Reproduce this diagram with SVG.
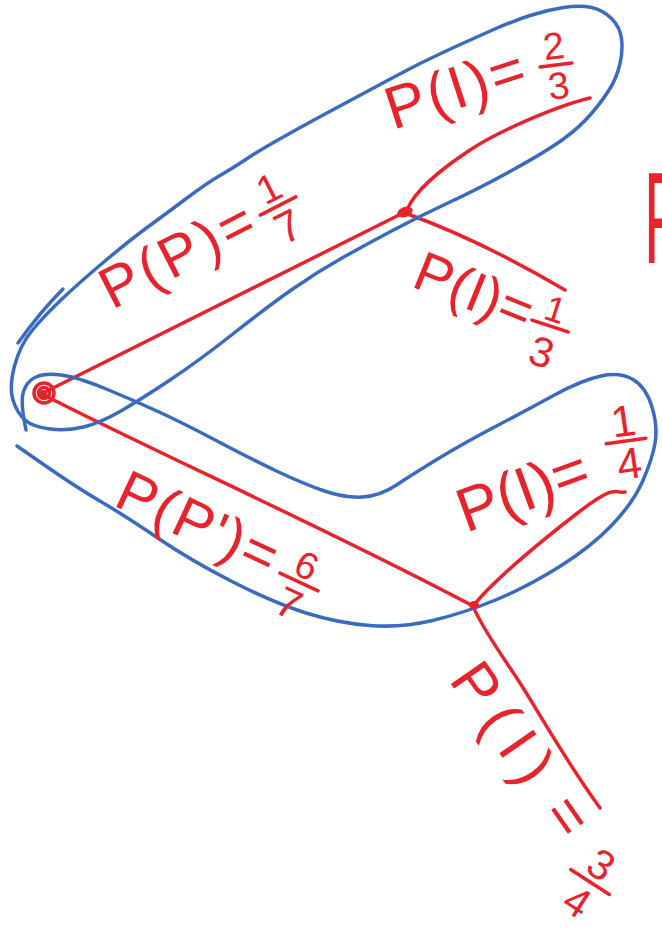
<svg xmlns="http://www.w3.org/2000/svg" width="662" height="934" viewBox="0 0 662 934">
<style>
.r{fill:none;stroke:#e8232b;stroke-width:3.5;stroke-linecap:round;stroke-linejoin:round}
.b{fill:none;stroke:#3b6bc1;stroke-width:3.5;stroke-linecap:round;stroke-linejoin:round}
.t{fill:#e8232b;font-family:"Liberation Sans",Arial,sans-serif}
.fr{text-anchor:middle}
.dot{fill:#e8232b}
</style>
<rect width="662" height="934" fill="#ffffff"/>
<g id="connectors">
<path class="r" d="M47,391 Q230,300 405,212"/>
<path class="r" d="M407,210 C415,190 440,170 470,150 S560,105 590,98"/>
<path class="r" d="M405,213 Q480,240 565,290"/>
<path class="r" d="M46,396 C150,450 320,525 473,606"/>
<path class="r" d="M473,606 C490,585 530,550 575,515 S615,495 625,492"/>
<path class="r" d="M473,606 C480,625 505,660 520,683 S565,760 600,808"/>
</g>
<g id="node-a"><ellipse class="dot" cx="405" cy="212" rx="8" ry="5" transform="rotate(-20 405 212)"/></g>
<g id="group-upper">
<path class="b" d="M25,420 Q33,427 50,429 Q67,431 83.5,427 Q100,423 120,411.5 Q140,400 170,380 Q200,360 233.5,333.5 Q267,307 292,289.5 Q317,272 342,258 Q367,244 393.5,230 Q420,216 450,202 Q480,188 513.5,169.5 Q547,151 563.5,139 Q580,127 591.5,113.5 Q603,100 610,88.5 Q617,77 620,63.5 Q623,50 621.5,38.5 Q620,27 611.5,18.5 Q603,10 591.5,7.5 Q580,5 563.5,7.5 Q547,10 530,15.5 Q513,21 491.5,30.5 Q470,40 445,51.5 Q420,63 395,76.5 Q370,90 340,106 Q310,122 285,136 Q260,150 246.5,159 Q233,168 220,175.5 Q207,183 187,198 Q167,213 148.5,226.5 Q130,240 105,261 Q80,282 62.5,298.5 Q45,315 32.5,330 Q20,345 14.5,366 Q9,387 13,400 Q17,413 25,420 Z"/>
<path class="b" d="M63,289 Q40,312 18,343"/>
</g>
<g id="group-lower">
<path class="b" d="M26,430 Q20,402 23.5,391.5 Q27,381 36,377 Q45,373 61,375 Q77,377 105,388.5 Q133,400 158,411.5 Q183,423 218,441.5 Q253,460 278.5,472 Q304,484 324.5,491 Q345,498 362.5,497 Q380,496 396.5,485 Q413,474 438.5,458.5 Q464,443 495.5,426.5 Q527,410 554.5,395 Q582,380 601,376 Q620,372 633,379.5 Q646,387 652,407 Q658,427 655,443.5 Q652,460 642.5,481.5 Q633,503 612,525 Q591,547 559,567 Q527,587 495.5,600 Q464,613 432.5,620.5 Q401,628 369.5,625.5 Q338,623 306,613 Q274,603 232,581.5 Q190,560 158.5,538.5 Q127,517 101.5,502 Q76,487 46.5,466.5 L17,446"/>
</g>
<g id="node-root"><circle class="r" cx="44" cy="393" r="10"/><circle class="r" cx="44" cy="393" r="5.5"/><circle class="dot" cx="43" cy="394" r="4"/></g>
<g id="node-b"><ellipse class="dot" cx="474" cy="605" rx="5" ry="4"/></g>
<g id="labels">
<g transform="translate(112,310) rotate(-27)"><text class="t" font-size="58" letter-spacing="4">P(P)=</text></g>
<g transform="translate(278,206) rotate(-27)"><text class="t fr" font-size="40" y="-6">1</text><line class="r" x1="-20" y1="0" x2="20" y2="0"/><text class="t fr" font-size="44" y="38">7</text></g>
<g transform="translate(393,130) rotate(-18)"><text class="t" font-size="60" letter-spacing="3">P(I)=</text></g>
<g transform="translate(556,65) rotate(-7)"><text class="t fr" font-size="38" y="-6">2</text><line class="r" x1="-16" y1="0" x2="16" y2="0"/><text class="t fr" font-size="38" y="34">3</text></g>
<g transform="translate(410,286) rotate(22)"><text class="t" font-size="56">P(I)=</text></g>
<g transform="translate(550,326) rotate(18)"><text class="t fr" font-size="36" y="-5">1</text><line class="r" x1="-19" y1="0" x2="19" y2="0"/><text class="t fr" font-size="42" y="42">3</text></g>
<g transform="translate(112,505) rotate(25)"><text class="t" font-size="58" letter-spacing="2">P(P')=</text></g>
<g transform="translate(299,582) rotate(25)"><text class="t fr" font-size="38" y="-5">6</text><line class="r" x1="-21" y1="0" x2="21" y2="0"/><text class="t fr" font-size="42" y="38">7</text></g>
<g transform="translate(466,533) rotate(-20)"><text class="t" font-size="62">P(I)=</text></g>
<g transform="translate(626,441) rotate(-8)"><text class="t fr" font-size="44" y="-5">1</text><line class="r" x1="-20" y1="0" x2="20" y2="0"/><text class="t fr" font-size="44" y="38">4</text></g>
<g transform="translate(448,680) rotate(55)"><text class="t" font-size="60" letter-spacing="12">P(I)<tspan dx="18">=</tspan></text></g>
<g transform="translate(590,882) rotate(33)"><text class="t fr" font-size="42" y="-6">3</text><line class="r" x1="-23" y1="0" x2="23" y2="0"/><text class="t fr" font-size="42" y="38">4</text></g>
<text class="t" font-size="100" transform="translate(644,263) scale(0.6,1.3)">P</text>
</g>
</svg>
